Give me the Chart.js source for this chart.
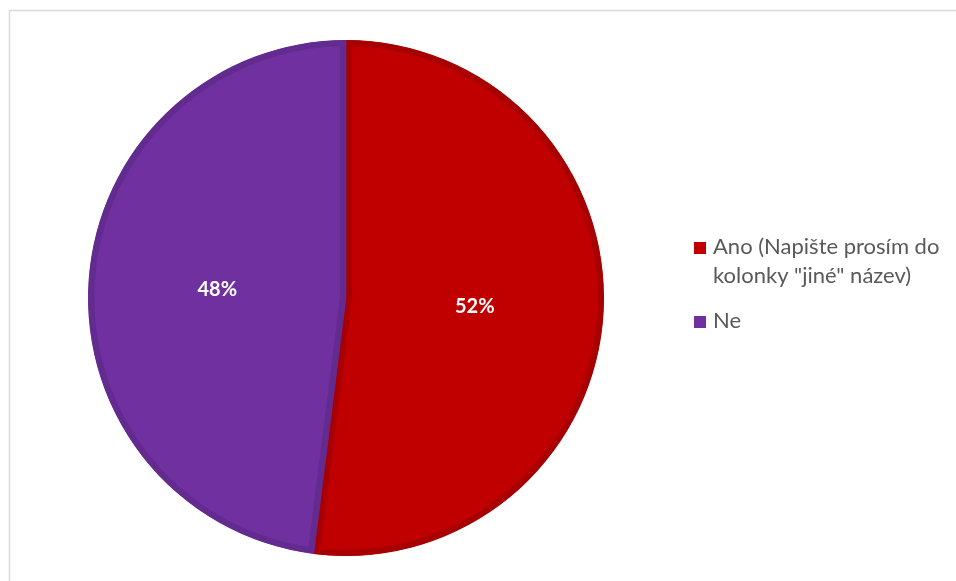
<!DOCTYPE html>
<html>
<head>
<meta charset="utf-8">
<script src="https://cdn.jsdelivr.net/npm/chart.js@4.4.0/dist/chart.umd.min.js"></script>
<style>
  html, body { margin: 0; padding: 0; background: #fff; }
  #wrap { width: 956px; height: 581px; position: relative; }
</style>
</head>
<body>
<div id="wrap"><canvas id="pie-chart"></canvas></div>
<script>
const labels = ['Ano (Napište prosím do kolonky "jiné" název)', 'Ne'];
const values = [52, 48];
const fills = ['#C00000', '#7030A0'];
const edges = ['#A80000', '#632A8F'];

// frame, slice percentages and the wrapped legend on the right
const extras = {
  id: 'extras',
  afterDraw(chart) {
    const ctx = chart.ctx;
    ctx.save();
    ctx.strokeStyle = '#d9d9d9';
    ctx.lineWidth = 1.5;
    ctx.beginPath();
    ctx.moveTo(9.5, 590);
    ctx.lineTo(9.5, 10.5);
    ctx.lineTo(960, 10.5);
    ctx.stroke();

    const total = values.reduce((a, b) => a + b, 0);
    ctx.fillStyle = '#fff';
    ctx.font = 'bold 20px Lato';
    ctx.textAlign = 'center';
    ctx.textBaseline = 'middle';
    chart.getDatasetMeta(0).data.forEach((arc, i) => {
      const p = arc.tooltipPosition();
      ctx.fillText(Math.round(values[i] / total * 100) + '%', p.x, p.y);
    });

    ctx.font = '22px Lato';
    ctx.textAlign = 'left';
    ctx.textBaseline = 'alphabetic';
    const maxW = 240;
    let y = 254;
    labels.forEach((txt, i) => {
      const words = txt.split(' ');
      const lines = [];
      let cur = '';
      words.forEach(w => {
        const t = cur ? cur + ' ' + w : w;
        if (ctx.measureText(t).width > maxW && cur) { lines.push(cur); cur = w; }
        else cur = t;
      });
      lines.push(cur);
      ctx.fillStyle = fills[i];
      ctx.fillRect(694, y - 12, 12, 12);
      ctx.fillStyle = '#595959';
      lines.forEach((l, j) => ctx.fillText(l, 713, y + j * 29));
      y += (lines.length - 1) * 29 + 45;
    });
    ctx.restore();
  }
};

new Chart(document.querySelector('#pie-chart'), {
  type: 'pie',
  data: {
    labels: labels,
    datasets: [{
      data: values,
      backgroundColor: fills,
      borderColor: edges,
      borderWidth: 6,
      borderAlign: 'inner'
    }]
  },
  options: {
    responsive: true,
    maintainAspectRatio: false,
    animation: false,
    layout: { padding: { left: 88, right: 352, top: 40, bottom: 25 } },
    plugins: {
      legend: { display: false },
      tooltip: { enabled: false }
    }
  },
  plugins: [extras]
});
</script>
</body>
</html>
